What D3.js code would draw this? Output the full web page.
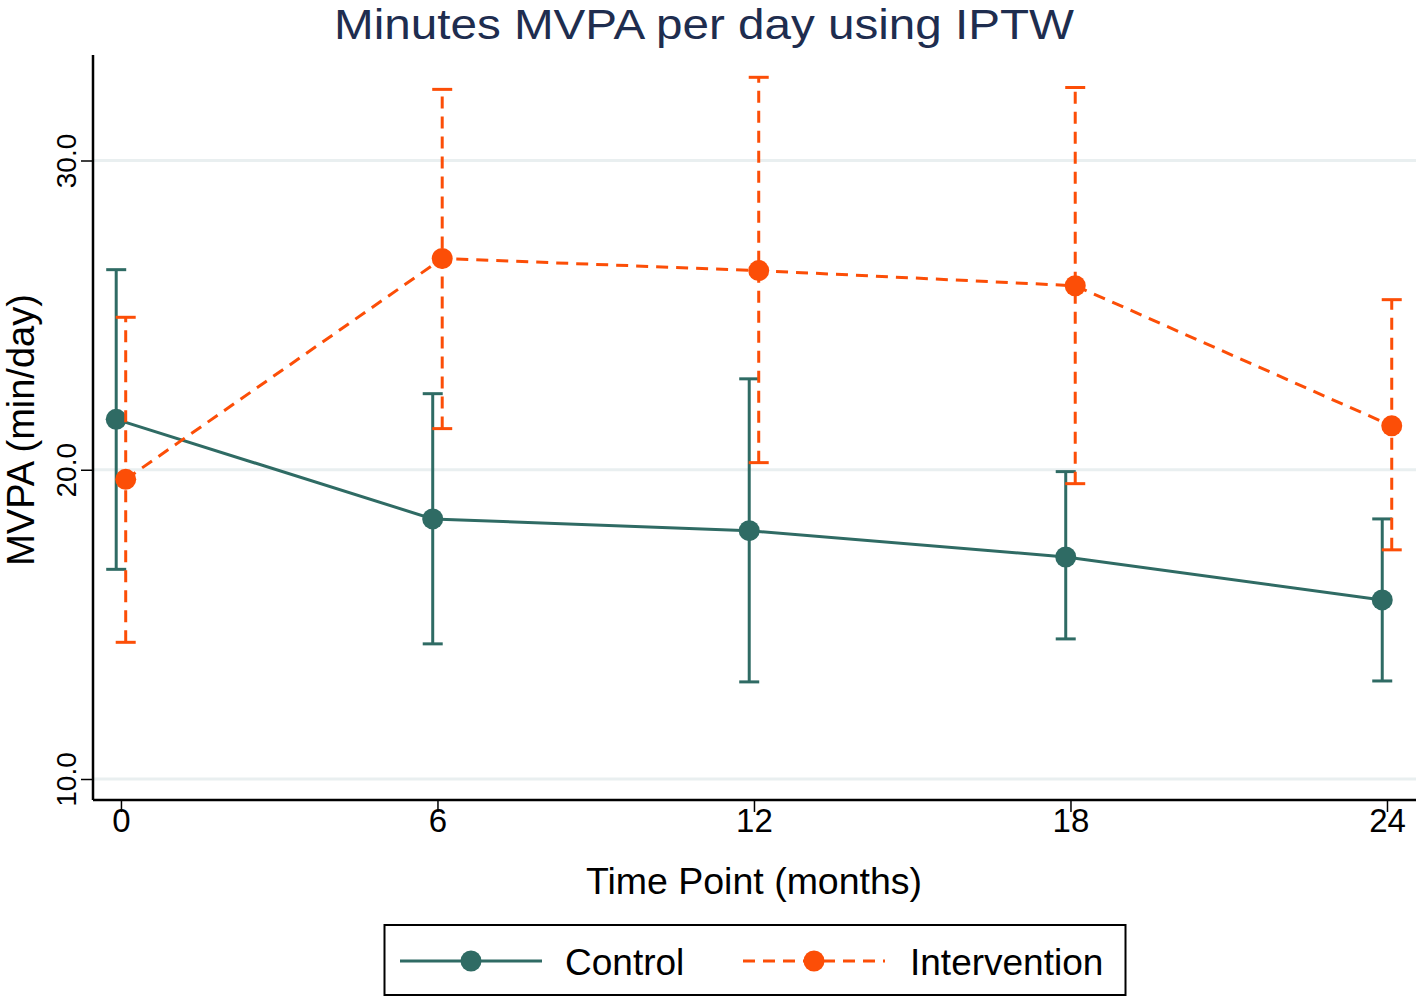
<!DOCTYPE html>
<html><head><meta charset="utf-8">
<script src="https://cdn.jsdelivr.net/npm/d3@7"></script>
<style>body{margin:0;background:#fff}svg{display:block}text{font-family:"Liberation Sans",Arial,Helvetica,sans-serif}</style>
</head><body><svg id="c" width="1424" height="996"></svg>
<script>
const timePoints = [0, 6, 12, 18, 24];
const controlMean = [21.63, 18.41, 18.03, 17.18, 15.79];
const controlLow  = [16.78, 14.37, 13.14, 14.53, 13.17];
const controlHigh = [26.47, 22.46, 22.94, 19.94, 18.41];
const interMean = [19.69, 26.83, 26.44, 25.95, 21.42];
const interLow  = [14.42, 21.33, 20.23, 19.55, 17.41];
const interHigh = [24.93, 32.30, 32.69, 32.36, 25.50];
const yTicks = [10, 20, 30];
const xTicks = [0, 6, 12, 18, 24];
const labels = ["Control", "Intervention"];

const svg = d3.select("#c");
const L = 93, R = 1416, T = 55, B = 800;
const x = d3.scaleLinear().domain([-0.53, 24.55]).range([L, R]);
const y = d3.scaleLinear().domain([10, 30]).range([779, 160.5]);
const cCol = "#2f6b64", iCol = "#fc4e07";
const off = 0.09;

// gridlines
svg.append("g").selectAll("line").data(yTicks).join("line")
  .attr("x1", L).attr("x2", R).attr("y1", d => y(d)).attr("y2", d => y(d))
  .attr("stroke", "#e9eff0").attr("stroke-width", 3);

// axes
const yAxis = d3.axisLeft(y).tickValues(yTicks).tickSize(12).tickFormat(d3.format(".1f"));
const gy = svg.append("g").attr("transform", `translate(${L},0)`).call(yAxis);
gy.select(".domain").attr("d", `M0,${T}V${B}`).attr("stroke", "#000").attr("stroke-width", 2.5);
gy.selectAll(".tick line").attr("stroke", "#000").attr("stroke-width", 1.5);
gy.selectAll(".tick text").attr("font-size", 28).attr("fill", "#000")
  .attr("transform", "rotate(-90)").attr("x", 0).attr("y", -17).attr("dy", 0)
  .attr("text-anchor", "middle");

const xAxis = d3.axisBottom(x).tickValues(xTicks).tickSize(12);
const gx = svg.append("g").attr("transform", `translate(0,${B})`).call(xAxis);
gx.select(".domain").attr("d", `M${L},0H${R}`).attr("stroke", "#000").attr("stroke-width", 2.5);
gx.selectAll(".tick line").attr("stroke", "#000").attr("stroke-width", 1.5);
gx.selectAll(".tick text").attr("font-size", 33).attr("fill", "#000").attr("y", 32).attr("dy", 0);

// titles
svg.append("text").attr("x", 704).attr("y", 39).attr("text-anchor", "middle")
  .attr("font-size", 42).attr("textLength", 740).attr("lengthAdjust", "spacingAndGlyphs")
  .attr("fill", "#1e2d4f").text("Minutes MVPA per day using IPTW");
svg.append("text").attr("x", 754).attr("y", 894).attr("text-anchor", "middle")
  .attr("font-size", 37.5).attr("fill", "#000").text("Time Point (months)");
svg.append("text").attr("transform", `translate(34,430) rotate(-90)`)
  .attr("text-anchor", "middle").attr("font-size", 38).attr("fill", "#000").text("MVPA (min/day)");

function series(mean, low, high, col, dx, dash) {
  const g = svg.append("g");
  const pts = timePoints.map((t, i) => ({t: t + dx, m: mean[i], lo: low[i], hi: high[i]}));
  const line = d3.line().x(d => x(d.t)).y(d => y(d.m));
  g.append("path").datum(pts).attr("d", line).attr("fill", "none")
    .attr("stroke", col).attr("stroke-width", 3).attr("stroke-dasharray", dash);
  g.selectAll(".eb").data(pts).join("line")
    .attr("x1", d => x(d.t)).attr("x2", d => x(d.t)).attr("y1", d => y(d.lo)).attr("y2", d => y(d.hi))
    .attr("stroke", col).attr("stroke-width", 3).attr("stroke-dasharray", dash);
  const cw = 10;
  ["lo", "hi"].forEach(k => {
    g.selectAll(".cap" + k).data(pts).join("line")
      .attr("x1", d => x(d.t) - cw).attr("x2", d => x(d.t) + cw)
      .attr("y1", d => y(d[k])).attr("y2", d => y(d[k]))
      .attr("stroke", col).attr("stroke-width", 3);
  });
  g.selectAll("circle").data(pts).join("circle")
    .attr("cx", d => x(d.t)).attr("cy", d => y(d.m)).attr("r", 10.5).attr("fill", col);
}
series(controlMean, controlLow, controlHigh, cCol, -off, null);
series(interMean, interLow, interHigh, iCol, off, "12,8");

// legend
const lg = svg.append("g");
lg.append("rect").attr("x", 384.5).attr("y", 925).attr("width", 741).attr("height", 70)
  .attr("fill", "#fff").attr("stroke", "#000").attr("stroke-width", 2);
const items = [
  {lab: labels[0], col: cCol, x0: 400, dash: null, tx: 565},
  {lab: labels[1], col: iCol, x0: 743, dash: "12,8", tx: 910}
];
items.forEach(it => {
  lg.append("line").attr("x1", it.x0).attr("x2", it.x0 + 142).attr("y1", 961).attr("y2", 961)
    .attr("stroke", it.col).attr("stroke-width", 3).attr("stroke-dasharray", it.dash);
  lg.append("circle").attr("cx", it.x0 + 71).attr("cy", 961).attr("r", 10.5).attr("fill", it.col);
  lg.append("text").attr("x", it.tx).attr("y", 975).attr("font-size", 37).attr("fill", "#000").text(it.lab);
});
</script></body></html>
